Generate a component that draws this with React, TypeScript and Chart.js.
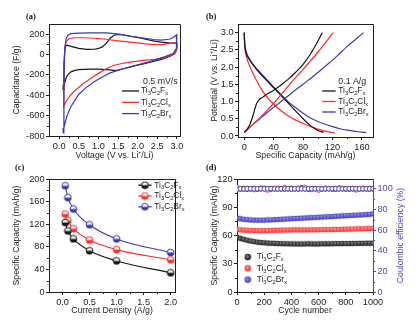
import React, { useEffect, useRef } from 'react';
import { Chart, registerables } from 'chart.js';

const FONT = "'Liberation Sans', Arial, Helvetica, sans-serif";
const INK = '#1e1e1e';
const C_F = '#161616';
const C_CL = '#ff2a2a';
const C_BR = '#3a3ab8';
const C_AX2 = '#4848b4';
const TICK_SIZE = 9.2;
const TITLE_SIZE = 8.7;

const materialNames = ['Ti₃C₂Fₓ', 'Ti₃C₂Clₓ', 'Ti₃C₂Brₓ'];

// ---------- (a) cyclic voltammetry ----------
const cvF_V = [0.10, 0.12, 0.15, 0.20, 0.30, 0.50, 0.70, 0.90, 1.00, 1.10, 1.20, 1.30, 1.40, 1.50, 1.60, 1.80, 2.00, 2.20, 2.40, 2.60, 2.80, 2.95, 3.00, 3.00, 2.95, 2.80, 2.60, 2.40, 2.20, 2.00, 1.80, 1.60, 1.50, 1.40, 1.20, 1.00, 0.80, 0.50, 0.40, 0.30, 0.23, 0.18, 0.15, 0.12, 0.10];
const cvF_C = [-350, -100, 80, 92, 80, 60, 50, 52, 60, 75, 110, 160, 190, 198, 195, 180, 168, 150, 135, 122, 115, 112, 110, 60, 10, -20, -48, -68, -88, -105, -125, -142, -152, -155, -148, -144, -144, -148, -155, -170, -195, -225, -265, -300, -350];
const cvCl_V = [0.10, 0.12, 0.14, 0.18, 0.25, 0.40, 0.60, 0.90, 1.20, 1.50, 1.80, 2.00, 2.20, 2.40, 2.60, 2.80, 2.95, 3.00, 3.00, 2.97, 2.90, 2.70, 2.45, 2.20, 2.00, 1.80, 1.60, 1.40, 1.20, 1.00, 0.80, 0.60, 0.40, 0.30, 0.20, 0.15, 0.10];
const cvCl_C = [-520, -200, 50, 130, 155, 165, 165, 160, 150, 135, 122, 115, 105, 97, 98, 108, 115, 112, 60, 20, 0, -30, -46, -55, -65, -75, -88, -105, -140, -185, -235, -290, -355, -395, -445, -480, -520];
const cvBr_V = [0.10, 0.12, 0.14, 0.18, 0.22, 0.30, 0.50, 0.80, 1.00, 1.20, 1.40, 1.60, 1.80, 2.00, 2.20, 2.40, 2.60, 2.80, 2.90, 3.00, 3.00, 2.98, 2.90, 2.70, 2.50, 2.30, 2.00, 1.80, 1.50, 1.30, 1.10, 0.90, 0.70, 0.50, 0.40, 0.30, 0.20, 0.15, 0.12, 0.10];
const cvBr_C = [-770, -300, 60, 160, 190, 205, 210, 212, 214, 212, 205, 195, 182, 170, 158, 148, 142, 150, 165, 195, 150, 60, 10, -20, -45, -70, -100, -120, -155, -180, -220, -265, -320, -390, -450, -510, -600, -670, -720, -770];
const aTicksX = [0, 0.5, 1.0, 1.5, 2.0, 2.5, 3.0];
const aTicksY = [-800, -600, -400, -200, 0, 200];

// ---------- (b) charge / discharge ----------
const gcdF_chgCap = [0, 4, 8, 12, 16, 20, 25, 30, 40, 50, 60, 70, 80, 90, 100, 106];
const gcdF_chgV = [0.1, 0.2, 0.35, 0.6, 0.9, 1.05, 1.12, 1.2, 1.33, 1.48, 1.65, 1.85, 2.08, 2.38, 2.75, 3.0];
const gcdF_disCap = [0, 0.5, 1.5, 3, 6, 10, 15, 20, 30, 40, 50, 60, 70, 80, 90, 100, 108];
const gcdF_disV = [3.0, 2.7, 2.5, 2.38, 2.25, 2.12, 1.98, 1.85, 1.62, 1.4, 1.18, 0.95, 0.72, 0.5, 0.3, 0.16, 0.1];
const gcdCl_chgCap = [0, 5, 10, 20, 30, 40, 50, 60, 70, 80, 90, 100, 110, 121];
const gcdCl_chgV = [0.1, 0.2, 0.3, 0.5, 0.72, 0.95, 1.2, 1.45, 1.7, 1.93, 2.18, 2.43, 2.7, 3.0];
const gcdCl_disCap = [0, 0.5, 1.5, 3, 6, 10, 15, 20, 25, 30, 40, 50, 60, 70, 80, 90, 100, 110, 123];
const gcdCl_disV = [3.0, 2.65, 2.45, 2.3, 2.1, 1.9, 1.68, 1.48, 1.3, 1.15, 0.92, 0.73, 0.58, 0.46, 0.36, 0.27, 0.2, 0.14, 0.09];
const gcdBr_chgCap = [0, 5, 10, 20, 30, 40, 50, 60, 70, 80, 90, 100, 110, 120, 130, 140, 150, 162];
const gcdBr_chgV = [0.1, 0.2, 0.3, 0.48, 0.66, 0.83, 1.0, 1.17, 1.34, 1.5, 1.67, 1.84, 2.02, 2.2, 2.4, 2.6, 2.78, 3.0];
const gcdBr_disCap = [0, 0.5, 1.5, 3, 6, 10, 15, 20, 30, 40, 50, 60, 70, 80, 90, 100, 110, 120, 130, 140, 150, 160, 166];
const gcdBr_disV = [3.0, 2.72, 2.55, 2.42, 2.28, 2.14, 2.0, 1.88, 1.65, 1.42, 1.2, 0.99, 0.82, 0.66, 0.52, 0.42, 0.34, 0.27, 0.21, 0.17, 0.14, 0.11, 0.1];
const bTicksX = [0, 40, 80, 120, 160];
const bTicksY = [0, 0.5, 1.0, 1.5, 2.0, 2.5, 3.0];

// ---------- (c) rate capability ----------
const rateDensity = [0.05, 0.1, 0.2, 0.5, 1.0, 2.0];
const rateF = [123, 108, 94, 73, 55, 34];
const rateCl = [138, 126, 112, 92, 75, 57];
const rateBr = [188, 167, 147, 119, 94, 70];
const cTicksX = [0, 0.5, 1.0, 1.5, 2.0];
const cTicksY = [0, 40, 80, 120, 160, 200];

// ---------- (d) cycling ----------
const cycles = [1, 25, 50, 75, 100, 125, 150, 175, 200, 225, 250, 275, 300, 325, 350, 375, 400, 425, 450, 475, 500, 525, 550, 575, 600, 625, 650, 675, 700, 725, 750, 775, 800, 825, 850, 875, 900, 925, 950, 975, 1000];
const cycCapF = [58, 57, 56, 55, 54.2, 53.5, 53, 52.6, 52.3, 52, 51.8, 51.7, 51.5, 51.4, 51.3, 51.2, 51.1, 51.1, 51, 51, 51.1, 51.2, 51.1, 51, 51.1, 51.2, 51.2, 51.3, 51.3, 51.4, 51.4, 51.5, 51.5, 51.5, 51.6, 51.6, 51.7, 51.7, 51.8, 51.8, 51.9];
const cycCapCl = [66.5, 66, 65.8, 65.5, 65.5, 65.3, 65.2, 65, 65.2, 65.3, 65.5, 65.5, 65.6, 65.7, 65.8, 65.8, 65.9, 66, 66, 66, 65.9, 66, 66.1, 66.1, 66.2, 66.2, 66.3, 66.3, 66.4, 66.5, 66.5, 66.6, 66.7, 66.8, 66.9, 67, 67.1, 67.2, 67.3, 67.4, 67.5];
const cycCapBr = [78.5, 77.8, 77.2, 76.8, 76.5, 76.4, 76.3, 76.3, 76.4, 76.5, 76.6, 76.8, 77, 77.2, 77.4, 77.6, 77.8, 78, 78.2, 78.4, 78.6, 78.8, 79, 79.2, 79.4, 79.6, 79.8, 80, 80.2, 80.4, 80.6, 80.8, 81, 81.2, 81.4, 81.6, 81.8, 82, 82.3, 82.6, 83];
const ceF = [100.8, 100, 100.3, 99.7, 100, 100.2, 99.8, 100, 100.5, 100, 99.7, 100, 100.3, 100, 99.8, 100, 100.4, 100, 99.8, 101, 100, 99.7, 100, 100.3, 100, 99.8, 100, 100.2, 100, 99.7, 100, 100.3, 100, 99.8, 100, 100.2, 100, 99.9, 100, 100.3, 100];
const ceCl = [101.5, 100, 99.5, 100.5, 100, 99.2, 100, 100.8, 100, 98.8, 100, 100.5, 99.6, 100, 101.2, 100, 99.4, 100, 100.6, 100, 101.5, 100, 99.3, 100, 98.7, 100, 100.6, 100, 99.5, 100, 101, 100, 99.6, 100, 100.4, 98.9, 100, 100.7, 100, 99.5, 100];
const ceBr = [99.6, 100, 99.8, 100, 100.1, 99.9, 100, 100, 99.9, 100, 100.1, 100, 99.9, 100, 100, 100.1, 99.9, 100, 100, 100, 99.9, 100, 100.1, 100, 100, 99.9, 100, 100, 100.1, 100, 99.9, 100, 100, 100, 100.1, 100, 99.9, 100, 100, 100, 100];
const dTicksX = [0, 200, 400, 600, 800, 1000];
const dTicksY = [0, 30, 60, 90, 120];
const dTicksY2 = [0, 20, 40, 60, 80, 100];

// ---------- helpers ----------
const zip = (xs: number[], ys: number[]) => xs.map((x, i) => ({ x, y: ys[i] }));

const SUB: Record<string, string> = { '₀': '0', '₁': '1', '₂': '2', '₃': '3', '₄': '4', '₅': '5', 'ₓ': 'x' };
function drawRich(ctx: CanvasRenderingContext2D, text: string, x: number, y: number, size: number, color: string) {
  const runs: { t: string; sub: boolean }[] = [];
  for (const ch of text) {
    const s = SUB[ch] !== undefined;
    const t = s ? SUB[ch] : ch;
    const last = runs[runs.length - 1];
    if (last && last.sub === s) last.t += t; else runs.push({ t, sub: s });
  }
  ctx.save();
  ctx.textBaseline = 'middle';
  ctx.textAlign = 'left';
  ctx.fillStyle = color;
  let cx = x;
  for (const r of runs) {
    const fs = r.sub ? size * 0.68 : size;
    ctx.font = `${fs}px ${FONT}`;
    ctx.fillText(r.t, cx, r.sub ? y + size * 0.32 : y);
    cx += ctx.measureText(r.t).width;
  }
  ctx.restore();
}

const decorPlugin = {
  id: 'decor',
  afterDraw(chart: any, _args: any, opts: any) {
    const ctx: CanvasRenderingContext2D = chart.ctx;
    const ca = chart.chartArea;
    const al = (v: number) => Math.round(v) + 0.5;
    ctx.save();
    // minor ticks
    for (const id of Object.keys(chart.scales)) {
      const s = chart.scales[id];
      const col = (s.options.border && s.options.border.color) || INK;
      const ticks = s.ticks || [];
      ctx.strokeStyle = col;
      ctx.lineWidth = 1;
      for (let i = 0; i < ticks.length - 1; i++) {
        const p = (s.getPixelForValue(ticks[i].value) + s.getPixelForValue(ticks[i + 1].value)) / 2;
        ctx.beginPath();
        if (s.isHorizontal()) {
          ctx.moveTo(al(p), ca.bottom); ctx.lineTo(al(p), ca.bottom + 2);
        } else if (s.position === 'left') {
          ctx.moveTo(ca.left, al(p)); ctx.lineTo(ca.left - 2, al(p));
        } else {
          ctx.moveTo(ca.right, al(p)); ctx.lineTo(ca.right + 2, al(p));
        }
        ctx.stroke();
      }
    }
    // box
    ctx.strokeStyle = INK;
    ctx.lineWidth = 1;
    ctx.beginPath();
    ctx.moveTo(al(ca.left), al(ca.top));
    ctx.lineTo(al(ca.right), al(ca.top));
    ctx.stroke();
    ctx.strokeStyle = opts.rightColor || INK;
    ctx.beginPath();
    ctx.moveTo(al(ca.right), al(ca.top));
    ctx.lineTo(al(ca.right), al(ca.bottom));
    ctx.stroke();
    // right rotated title
    if (opts.rightTitle) {
      const rt = opts.rightTitle;
      ctx.save();
      ctx.translate(rt.x, (ca.top + ca.bottom) / 2);
      ctx.rotate(-Math.PI / 2);
      ctx.font = `${TITLE_SIZE}px ${FONT}`;
      ctx.fillStyle = rt.color;
      ctx.textAlign = 'center';
      ctx.textBaseline = 'middle';
      ctx.fillText(rt.text, 0, 0);
      ctx.restore();
    }
    // legend
    const lg = opts.legend;
    if (lg) {
      if (lg.title) drawRich(ctx, lg.title, lg.titleX, lg.titleY, 8.8, INK);
      const items = chart.data.datasets.filter((d: any) => d.label);
      items.forEach((d: any, i: number) => {
        const y = lg.y0 + i * lg.dy;
        if (lg.mode === 'line' || lg.mode === 'lineMarker') {
          ctx.strokeStyle = d.borderColor;
          ctx.lineWidth = 1.3;
          ctx.beginPath();
          ctx.moveTo(lg.x0, y);
          ctx.lineTo(lg.x1, y);
          ctx.stroke();
        }
        if (lg.mode === 'lineMarker' || lg.mode === 'marker') {
          const img = lg.mode === 'marker' && d.legendImage ? d.legendImage : d.pointStyle;
          const cx = lg.mode === 'marker' ? lg.mx : (lg.x0 + lg.x1) / 2;
          ctx.drawImage(img, cx - img.width / 2, y - img.height / 2);
        }
        drawRich(ctx, d.label, lg.textX, y, 8.4, INK);
      });
    }
    ctx.restore();
  },
};

Chart.register(...registerables, decorPlugin);

function axis(o: {
  min: number; max: number; ticks: number[]; fmt: (v: number) => string; title?: string;
  size: number; isX: boolean; color?: string; position?: string;
}) {
  const color = o.color || INK;
  return {
    type: 'linear',
    position: o.position || (o.isX ? 'bottom' : 'left'),
    min: o.min,
    max: o.max,
    afterBuildTicks: (s: any) => { s.ticks = o.ticks.map((v) => ({ value: v })); },
    afterFit: (s: any) => { if (o.isX) s.height = o.size; else s.width = o.size; },
    grid: { drawOnChartArea: false, drawTicks: true, tickLength: 3, color, tickColor: color, lineWidth: 1 },
    border: { display: true, color, width: 1 },
    ticks: {
      color, font: { size: TICK_SIZE, family: FONT }, padding: o.isX ? 1.5 : 1.5,
      maxRotation: 0, autoSkip: false, callback: (v: any) => o.fmt(Number(v)),
    },
    title: { display: !!o.title, text: o.title || '', color, font: { size: TITLE_SIZE, family: FONT }, padding: 0 },
  };
}

function halfMarker(color: string, r: number) {
  const c = document.createElement('canvas');
  const s = Math.ceil(r * 2 + 2);
  c.width = s; c.height = s;
  const g = c.getContext('2d')!;
  const grad = g.createLinearGradient(0, 1, 0, s - 1);
  grad.addColorStop(0, '#ffffff');
  grad.addColorStop(0.42, '#f4f4f4');
  grad.addColorStop(0.58, color);
  grad.addColorStop(1, color);
  g.beginPath();
  g.arc(s / 2, s / 2, r, 0, Math.PI * 2);
  g.fillStyle = grad;
  g.fill();
  g.lineWidth = 1;
  g.strokeStyle = color;
  g.stroke();
  return c;
}

function sphere(color: string, hl: string, r: number) {
  const c = document.createElement('canvas');
  const s = Math.ceil(r * 2 + 1);
  c.width = s; c.height = s;
  const g = c.getContext('2d')!;
  const grad = g.createRadialGradient(s / 2 - r * 0.35, s / 2 - r * 0.35, 0, s / 2, s / 2, r);
  grad.addColorStop(0, hl);
  grad.addColorStop(1, color);
  g.beginPath();
  g.arc(s / 2, s / 2, r, 0, Math.PI * 2);
  g.fillStyle = grad;
  g.fill();
  return c;
}

const base = (padding: any, decor: any, scales: any) => ({
  animation: false,
  responsive: false,
  events: [],
  layout: { padding },
  plugins: { legend: { display: false }, tooltip: { enabled: false }, title: { display: false }, decor },
  scales,
});

export default function App() {
  const refA = useRef<HTMLCanvasElement>(null);
  const refB = useRef<HTMLCanvasElement>(null);
  const refC = useRef<HTMLCanvasElement>(null);
  const refD = useRef<HTMLCanvasElement>(null);

  useEffect(() => {
    Chart.defaults.font.family = FONT;
    Chart.defaults.color = INK;
    const charts: any[] = [];
    const colors = [C_F, C_CL, C_BR];
    const f1 = (v: number) => v.toFixed(1);
    const f0 = (v: number) => String(v);

    // (a)
    const cvV = [cvF_V, cvCl_V, cvBr_V];
    const cvC = [cvF_C, cvCl_C, cvBr_C];
    charts.push(new Chart(refA.current!, {
      type: 'scatter',
      data: {
        datasets: materialNames.map((name, i) => ({
          label: name, data: zip(cvV[i], cvC[i]), showLine: true, borderColor: colors[i],
          backgroundColor: colors[i], borderWidth: 1.2, pointRadius: 0, tension: 0, order: 2 - i,
        })),
      },
      options: base({ left: 11, top: 24, right: 29, bottom: 0 },
        { legend: { title: '0.5 mV/s', titleX: 143, titleY: 81.5, y0: 91, dy: 11.3, x0: 122, x1: 139, textX: 141, mode: 'line' } },
        {
          x: axis({ min: -0.26, max: 3.08, ticks: aTicksX, fmt: f1, title: 'Voltage (V vs. Li⁺/Li)', size: 25, isX: true }),
          y: axis({ min: -800, max: 300, ticks: aTicksY, fmt: f0, title: 'Capacitance (F/g)', size: 38, isX: false }),
        }) as any,
    } as any));

    // (b)
    const gcd = [
      [gcdF_chgCap, gcdF_chgV, gcdF_disCap, gcdF_disV],
      [gcdCl_chgCap, gcdCl_chgV, gcdCl_disCap, gcdCl_disV],
      [gcdBr_chgCap, gcdBr_chgV, gcdBr_disCap, gcdBr_disV],
    ];
    const bSets: any[] = [];
    materialNames.forEach((name, i) => {
      bSets.push({ label: name, data: zip(gcd[i][0], gcd[i][1]), showLine: true, borderColor: colors[i], backgroundColor: colors[i], borderWidth: 1.2, pointRadius: 0, cubicInterpolationMode: 'monotone' });
    });
    materialNames.forEach((_name, i) => {
      bSets.push({ data: zip(gcd[i][2], gcd[i][3]), showLine: true, borderColor: colors[i], backgroundColor: colors[i], borderWidth: 1.2, pointRadius: 0, cubicInterpolationMode: 'monotone' });
    });
    charts.push(new Chart(refB.current!, {
      type: 'scatter',
      data: { datasets: bSets },
      options: base({ left: 0, top: 24, right: 46, bottom: 0 },
        { legend: { title: '0.1 A/g', titleX: 129.3, titleY: 81.7, y0: 91, dy: 10.5, x0: 113.3, x1: 126.7, textX: 129.3, mode: 'line' } },
        {
          x: axis({ min: -8.5, max: 175, ticks: bTicksX, fmt: f0, title: 'Specific Capacity (mAh/g)', size: 24, isX: true }),
          y: axis({ min: -0.03, max: 3.25, ticks: bTicksY, fmt: f1, title: 'Potential (V vs. Li⁺/Li)', size: 29, isX: false }),
        }) as any,
    } as any));

    // (c)
    const rates = [rateF, rateCl, rateBr];
    charts.push(new Chart(refC.current!, {
      type: 'scatter',
      data: {
        datasets: materialNames.map((name, i) => ({
          label: name, data: zip(rateDensity, rates[i]), showLine: true, borderColor: colors[i],
          backgroundColor: colors[i], borderWidth: 1.1, pointStyle: halfMarker(colors[i], 3.4), pointRadius: 3.5,
          cubicInterpolationMode: 'monotone',
        })),
      },
      options: base({ left: 11, top: 18, right: 34, bottom: 6 },
        { legend: { y0: 24.2, dy: 10.8, x0: 138.3, x1: 151.5, textX: 154.3, mode: 'lineMarker' } },
        {
          x: axis({ min: -0.25, max: 2.08, ticks: cTicksX, fmt: f1, title: 'Current Density (A/g)', size: 24, isX: true }),
          y: axis({ min: 0, max: 200, ticks: cTicksY, fmt: f0, title: 'Specific Capacity (mAh/g)', size: 38, isX: false }),
        }) as any,
    } as any));

    // (d)
    const caps = [cycCapF, cycCapCl, cycCapBr];
    const ces = [ceF, ceCl, ceBr];
    const hls = ['#8a8a8a', '#ffa0a0', '#9a9ae8'];
    const dSets: any[] = [];
    materialNames.forEach((name, i) => {
      dSets.push({
        label: name, data: zip(cycles, caps[i]), yAxisID: 'y', showLine: false,
        pointStyle: sphere(colors[i], hls[i], 2.8), legendImage: sphere(colors[i], hls[i], 3.3),
        pointRadius: 2.8, borderColor: colors[i], backgroundColor: colors[i], order: 5 - i,
      });
    });
    materialNames.forEach((_n, i) => {
      dSets.push({
        data: zip(cycles, ces[i]), yAxisID: 'y2', showLine: false, pointStyle: 'circle', pointRadius: 2.3,
        pointBorderWidth: 0.9, pointBorderColor: colors[i], pointBackgroundColor: '#ffffff',
        borderColor: colors[i], backgroundColor: '#ffffff', order: 2 - i,
      });
    });
    charts.push(new Chart(refD.current!, {
      type: 'scatter',
      data: { datasets: dSets },
      options: base({ left: 0, top: 18, right: 13, bottom: 6 },
        {
          rightColor: C_AX2,
          rightTitle: { text: 'Coulombic efficiency (%)', color: C_AX2, x: 210 - 13 - 5.1 },
          legend: { y0: 96, dy: 11.3, mx: 38.7, textX: 47.7, mode: 'marker' },
        },
        {
          x: axis({ min: 0, max: 1000, ticks: dTicksX, fmt: f0, title: 'Cycle number', size: 24, isX: true }),
          y: axis({ min: 0, max: 120, ticks: dTicksY, fmt: f0, title: 'Specific Capacity (mAh/g)', size: 28, isX: false }),
          y2: axis({ min: 0, max: 109.5, ticks: dTicksY2, fmt: f0, size: 33, isX: false, position: 'right', color: C_AX2 }),
        }) as any,
    } as any));

    return () => { charts.forEach((c) => c.destroy()); };
  }, []);

  const cv = (left: number, top: number, w: number, h: number): React.CSSProperties => ({
    position: 'absolute', left, top, width: w, height: h, display: 'block',
  });
  const lab = (left: number, top: number): React.CSSProperties => ({
    position: 'absolute', left, top, font: "bold 8.5px 'Liberation Serif', 'Times New Roman', serif", color: '#111', lineHeight: '10px',
  });

  return (
    <div style={{ position: 'fixed', left: 0, top: 0, width: 419, height: 322, background: '#ffffff', overflow: 'hidden' }}>
      <canvas ref={refA} width={209} height={161} style={cv(0, 0, 209, 161)} />
      <canvas ref={refB} width={210} height={161} style={cv(209, 0, 210, 161)} />
      <canvas ref={refC} width={209} height={161} style={cv(0, 161, 209, 161)} />
      <canvas ref={refD} width={210} height={161} style={cv(209, 161, 210, 161)} />
      <div style={lab(26, 11)}>(a)</div>
      <div style={lab(206, 11)}>(b)</div>
      <div style={lab(15, 162)}>(c)</div>
      <div style={lab(206, 162)}>(d)</div>
    </div>
  );
}
